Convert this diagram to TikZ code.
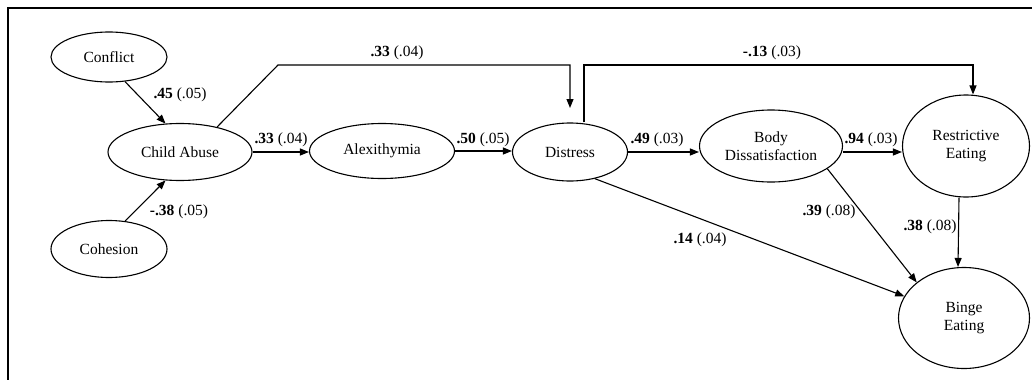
\documentclass[tikz,border=0pt]{standalone}
\usepackage{fontspec}
\setmainfont{Liberation Serif}
\usetikzlibrary{shapes.geometric,arrows.meta,calc}
\begin{document}
\begin{tikzpicture}[x=1pt,y=-1pt,
  every node/.style={font=\fontsize{15.5}{18}\selectfont},
  var/.style={ellipse,draw,line width=1.1pt,inner sep=0pt,align=center},
  arr/.style={line width=1.1pt,-{Triangle[length=9pt,width=7pt]}},
  conn/.style={line width=1.1pt},
  lbl/.style={inner sep=0pt}]
\useasboundingbox (0,0) rectangle (1032,380);
\draw[line width=1.1pt] (1032,8) -- (8,8) -- (8,380);

\node[var,minimum width=116pt,minimum height=50pt] (conflict) at (109,57) {Conflict};
\node[var,minimum width=116pt,minimum height=57pt] (cohesion) at (109,249) {Cohesion};
\node[var,minimum width=144pt,minimum height=57pt] (child) at (180,152) {Child Abuse};
\node[var,minimum width=145pt,minimum height=55pt] (alex) at (382,151) {Alexithymia};
\node[var,minimum width=115pt,minimum height=58pt] (distress) at (570,152) {Distress};
\node[var,minimum width=143pt,minimum height=72pt] (body) at (771,146) {Body\\Dissatisfaction};
\node[var,minimum width=127pt,minimum height=102pt] (restr) at (966,146) {Restrictive\\Eating};
\node[var,minimum width=131pt,minimum height=101pt] (binge) at (964,318) {Binge\\Eating};

\coordinate (b1) at (278,65);
\coordinate (d1) at (570,108);
\coordinate (c2) at (973,65);

\draw[arr] (conflict.-57) -- (child.117);
\draw[arr] (cohesion.60) -- (child.-117);
\draw[arr] (child.east) -- (child.east -| alex.west);
\draw[arr] (alex.east) -- (alex.east -| distress.west);
\draw[arr] (distress.east) -- (distress.east -| body.west);
\draw[arr] (body.east |- distress.east) -- (distress.east -| restr.west);
\draw[arr] (child.34) -- (b1) -- (b1 -| d1) -- (d1);
\draw[arr] ($(distress.north)+(14,0)$) |- (c2) -- (c2 |- restr.north);
\draw[arr] ($(restr.south)+(-7,0)$) -- ($(binge.north)+(-6,0)$);
\draw[arr] (distress.-47) -- (binge.160);
\draw[arr] (body.-22) -- (binge.143);

\node[lbl] (l1) at (180,95) {\textbf{.45} (.05)};
\node[lbl] (l2) at (179,212) {\textbf{-.38} (.05)};
\node[lbl] (l3) at (281,140) {\textbf{.33} (.04)};
\node[lbl] (l4) at (483,140) {\textbf{.50} (.05)};
\node[lbl] (l5) at (657,140) {\textbf{.49} (.03)};
\node[lbl] (l6) at (871,140) {\textbf{.94} (.03)};
\node[lbl] (l7) at (397,53) {\textbf{.33} (.04)};
\node[lbl] (l8) at (772,53) {\textbf{-.13} (.03)};
\node[lbl] (l9) at (829,212) {\textbf{.39} (.08)};
\node[lbl] (l10) at (930,227) {\textbf{.38} (.08)};
\node[lbl] (l11) at (700,240) {\textbf{.14} (.04)};
\end{tikzpicture}
\end{document}
